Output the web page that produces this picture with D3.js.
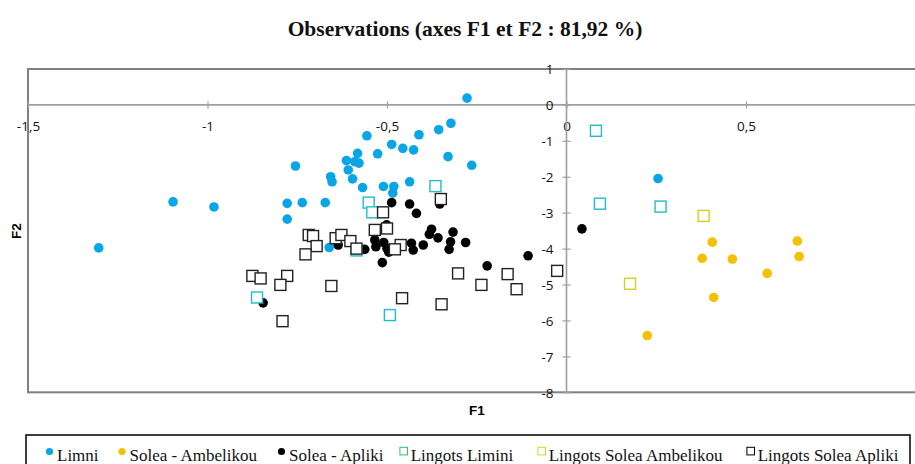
<!DOCTYPE html>
<html><head><meta charset="utf-8">
<script src="https://cdn.jsdelivr.net/npm/d3@7/dist/d3.min.js"></script>
<style>body{margin:0;background:#fff}svg{display:block}</style>
</head><body><svg id="c" width="915" height="464"></svg>
<script>
const title = "Observations (axes F1 et F2 : 81,92 %)";
const xTicks = [-1.5, -1, -0.5, 0, 0.5];
const yTicks = [1, 0, -1, -2, -3, -4, -5, -6, -7, -8];
const seriesNames = ["Limni", "Solea - Ambelikou", "Solea - Apliki", "Lingots Limini", "Lingots Solea Ambelikou", "Lingots Solea Apliki"];

const limni = [[-1.303,-3.98],[-1.096,-2.70],[-0.982,-2.84],[-0.755,-1.70],[-0.778,-2.74],[-0.736,-2.72],[-0.672,-2.72],[-0.778,-3.18],[-0.661,-3.97],[-0.556,-0.86],[-0.526,-1.36],[-0.582,-1.35],[-0.613,-1.55],[-0.590,-1.58],[-0.578,-1.62],[-0.608,-1.81],[-0.596,-2.06],[-0.657,-2.00],[-0.653,-2.14],[-0.568,-2.30],[-0.510,-2.27],[-0.481,-2.27],[-0.484,-2.45],[-0.487,-1.10],[-0.456,-1.21],[-0.426,-1.25],[-0.411,-0.83],[-0.356,-0.69],[-0.322,-0.51],[-0.330,-1.44],[-0.437,-2.14],[-0.277,0.19],[-0.264,-1.68],[0.255,-2.05]];
const soleaAmbelikou = [[0.406,-3.82],[0.378,-4.27],[0.462,-4.29],[0.559,-4.69],[0.410,-5.36],[0.225,-6.42],[0.643,-3.79],[0.648,-4.22]];
const soleaApliki = [[-0.487,-2.72],[-0.437,-2.76],[-0.418,-3.02],[-0.353,-2.76],[-0.376,-3.46],[-0.382,-3.60],[-0.358,-3.70],[-0.316,-3.54],[-0.323,-3.81],[-0.327,-4.02],[-0.281,-3.83],[-0.399,-3.90],[-0.432,-3.85],[-0.427,-4.04],[-0.534,-3.76],[-0.531,-3.95],[-0.509,-3.83],[-0.500,-4.00],[-0.495,-4.10],[-0.513,-4.39],[-0.221,-4.48],[-0.107,-4.20],[-0.562,-4.02],[-0.636,-3.90],[-0.501,-3.34],[-0.845,-5.51],[0.043,-3.45]];
const lingotsLimini = [[0.082,-0.72],[0.093,-2.75],[0.262,-2.83],[-0.365,-2.26],[-0.551,-2.72],[-0.541,-2.99],[-0.862,-5.36],[-0.492,-5.85],[-0.585,-4.05]];
const lingotsSoleaAmbelikou = [[0.382,-3.09],[0.177,-4.98]];
const lingotsSoleaApliki = [[-0.718,-3.62],[-0.706,-3.65],[-0.696,-3.93],[-0.727,-4.16],[-0.643,-3.71],[-0.627,-3.62],[-0.602,-3.79],[-0.585,-4.00],[-0.534,-3.48],[-0.500,-3.44],[-0.511,-2.99],[-0.875,-4.76],[-0.852,-4.83],[-0.778,-4.76],[-0.797,-5.01],[-0.655,-5.04],[-0.791,-6.02],[-0.462,-3.90],[-0.478,-4.02],[-0.350,-2.62],[-0.302,-4.69],[-0.237,-5.01],[-0.164,-4.71],[-0.139,-5.13],[-0.458,-5.38],[-0.348,-5.55],[-0.026,-4.62]];

const series = [
  {name: seriesNames[0], data: limni, shape: "circle", color: "#0AA5E6"},
  {name: seriesNames[1], data: soleaAmbelikou, shape: "circle", color: "#F5C000"},
  {name: seriesNames[2], data: soleaApliki, shape: "circle", color: "#000000"},
  {name: seriesNames[3], data: lingotsLimini, shape: "square", color: "#22BCCB"},
  {name: seriesNames[4], data: lingotsSoleaAmbelikou, shape: "square", color: "#D2CE2A"},
  {name: seriesNames[5], data: lingotsSoleaApliki, shape: "square", color: "#222222"}
];

const svg = d3.select("#c");
const x = d3.scaleLinear().domain([-1.5, 1]).range([28, 925.5]);
const y = d3.scaleLinear().domain([1, -8]).range([69, 392.3]);
const fmt = v => String(v).replace(".", ",");

svg.append("text").attr("x", 465).attr("y", 36).attr("text-anchor", "middle")
  .attr("font-family", "Liberation Serif, Times New Roman, serif").attr("font-weight", "bold")
  .attr("font-size", 21.5).attr("fill", "#111").text(title);

// frame
svg.append("rect").attr("x", x(-1.5)).attr("y", y(1)).attr("width", x(1) - x(-1.5)).attr("height", y(-8) - y(1))
  .attr("fill", "none").attr("stroke", "#808080").attr("stroke-width", 2);

// x axis at y=0
const xAxis = svg.append("g").attr("transform", `translate(0,${y(0)})`)
  .call(d3.axisBottom(x).tickValues(xTicks).tickFormat(fmt).tickSize(0).tickPadding(0));
xAxis.select(".domain").remove();
xAxis.append("line").attr("x1", x(-1.5)).attr("x2", x(1)).attr("stroke", "#A0A0A0").attr("stroke-width", 1.6);
xAxis.selectAll(".tick line").attr("y1", -3.5).attr("y2", 3.5).attr("stroke", "#A0A0A0").attr("stroke-width", 1.2);
xAxis.selectAll(".tick text").attr("y", 21).attr("dy", "0.35em")
  .attr("font-family", "Open Sans, sans-serif").attr("font-size", 13.5).attr("fill", "#111");

// y axis at x=0
const yAxis = svg.append("g").attr("transform", `translate(${x(0)},0)`)
  .call(d3.axisLeft(y).tickValues(yTicks).tickFormat(fmt).tickSize(0).tickPadding(0));
yAxis.select(".domain").remove();
yAxis.append("line").attr("y1", y(1)).attr("y2", y(-8)).attr("stroke", "#A0A0A0").attr("stroke-width", 1.6);
yAxis.selectAll(".tick line").attr("x1", -4).attr("x2", 4).attr("stroke", "#A0A0A0").attr("stroke-width", 1.2);
yAxis.selectAll(".tick text").attr("x", -13).attr("dy", "0.35em")
  .attr("font-family", "Open Sans, sans-serif").attr("font-size", 13.5).attr("fill", "#111");

// axis titles
svg.append("text").attr("x", 477).attr("y", 415).attr("text-anchor", "middle")
  .attr("font-family", "Liberation Sans, Arial, sans-serif").attr("font-weight", "bold").attr("font-size", 13.5).text("F1");
svg.append("text").attr("transform", "translate(21,231) rotate(-90)").attr("text-anchor", "middle")
  .attr("font-family", "Liberation Sans, Arial, sans-serif").attr("font-weight", "bold").attr("font-size", 13.5).text("F2");

// points
const plot = svg.append("g");
series.forEach(s => {
  const g = plot.append("g");
  if (s.shape === "circle") {
    g.selectAll("circle").data(s.data).join("circle")
      .attr("cx", d => x(d[0])).attr("cy", d => y(d[1])).attr("r", 4.8).attr("fill", s.color);
  } else {
    const a = 11;
    g.selectAll("rect").data(s.data).join("rect")
      .attr("x", d => x(d[0]) - a / 2).attr("y", d => y(d[1]) - a / 2).attr("width", a).attr("height", a)
      .attr("fill", "#fff").attr("stroke", s.color).attr("stroke-width", 1.4);
  }
});

// legend
svg.append("rect").attr("x", 26).attr("y", 435).attr("width", 884).attr("height", 40)
  .attr("fill", "#fff").attr("stroke", "#000").attr("stroke-width", 1.5);
const legendX = [49.5, 122, 281.5, 403.7, 541.7, 750.7];
series.forEach((s, i) => {
  const lx = legendX[i];
  if (s.shape === "circle") {
    svg.append("circle").attr("cx", lx).attr("cy", 451.5).attr("r", 3.6).attr("fill", s.color);
  } else {
    svg.append("rect").attr("x", lx - 3.8).attr("y", 447.3).attr("width", 7.6).attr("height", 7.6)
      .attr("fill", "#fff").attr("stroke", i === 3 ? "#2CC46A" : (i === 4 ? "#C8DC20" : "#000")).attr("stroke-width", 1);
  }
  svg.append("text").attr("x", lx + (s.shape === "circle" ? 7.5 : 7)).attr("y", 461)
    .attr("font-family", "Liberation Serif, Times New Roman, serif").attr("font-size", 17).attr("fill", "#111").text(s.name);
});
</script></body></html>
